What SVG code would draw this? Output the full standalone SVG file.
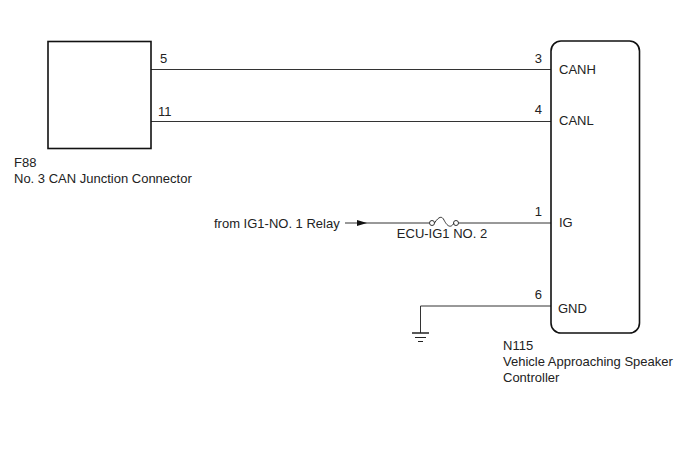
<svg xmlns="http://www.w3.org/2000/svg" width="688" height="463" viewBox="0 0 688 463">
<style>
text{font-family:"Liberation Sans",Arial,sans-serif;font-size:13px;fill:#222}
.w{stroke:#333;stroke-width:1;fill:none}
.box{stroke:#111;stroke-width:1.6;fill:#fff}
</style>
<defs>
<marker id="arr" markerWidth="10" markerHeight="6" refX="10" refY="3" orient="auto" markerUnits="userSpaceOnUse">
<path d="M0,0 L10,3 L0,6 Z" fill="#111"/>
</marker>
</defs>
<rect width="688" height="463" fill="#fff"/>
<g id="connectors">
<line class="w" x1="151" y1="69.5" x2="551" y2="69.5"/>
<line class="w" x1="151" y1="121.5" x2="551" y2="121.5"/>
<line class="w" x1="345" y1="223" x2="367" y2="223" marker-end="url(#arr)"/>
<line class="w" x1="367" y1="223" x2="429.5" y2="223"/>
<circle class="w" cx="432" cy="223" r="2.5"/>
<path class="w" d="M434.5,223 C439,216 442,216 444,220 C446,224 450,230 454,223"/>
<circle class="w" cx="456" cy="223" r="2.5"/>
<line class="w" x1="458.5" y1="223" x2="551" y2="223"/>
<polyline class="w" points="551,306 420.5,306 420.5,333"/>
<line stroke="#222" stroke-width="1.5" x1="412" y1="333" x2="429" y2="333"/>
<line stroke="#222" stroke-width="1" x1="415" y1="337.5" x2="426" y2="337.5"/>
<line stroke="#222" stroke-width="1" x1="418" y1="341.5" x2="423" y2="341.5"/>
<text x="214" y="228">from IG1-NO. 1 Relay</text>
<text x="442" y="237.5" text-anchor="middle">ECU-IG1 NO. 2</text>
</g>
<g id="F88">
<rect class="box" x="48" y="41.5" width="103" height="107"/>
<text x="160" y="63">5</text>
<text x="158" y="116">11</text>
<text x="14" y="166.5">F88</text>
<text x="14" y="182.5">No. 3 CAN Junction Connector</text>
</g>
<g id="N115">
<rect class="box" x="551" y="41" width="88.5" height="292" rx="10" ry="10"/>
<text x="542" y="62.5" text-anchor="end">3</text>
<text x="542" y="113.5" text-anchor="end">4</text>
<text x="542" y="216" text-anchor="end">1</text>
<text x="542" y="299" text-anchor="end">6</text>
<text x="559" y="74">CANH</text>
<text x="559" y="125">CANL</text>
<text x="559" y="227">IG</text>
<text x="558" y="312.5">GND</text>
<text x="503" y="350">N115</text>
<text x="503" y="366">Vehicle Approaching Speaker</text>
<text x="503" y="382">Controller</text>
</g>
</svg>
